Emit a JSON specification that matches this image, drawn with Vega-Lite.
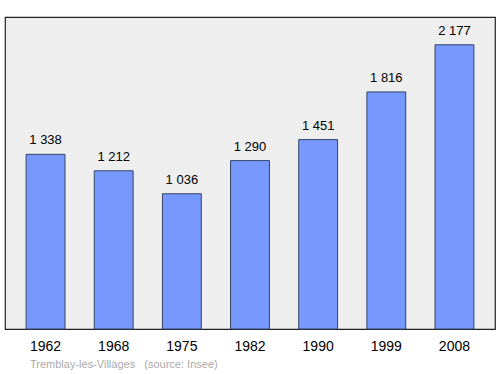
{
  "$schema": "https://vega.github.io/schema/vega-lite/v6.json",
  "width": 490,
  "height": 312,
  "autosize": {"type": "none"},
  "padding": {"left": 5, "top": 17, "right": 5, "bottom": 45},
  "background": "white",
  "config": {
    "font": "Liberation Sans",
    "view": {"fill": "#eeeeee", "stroke": "#222222", "strokeWidth": 1.2}
  },
  "title": {
    "text": "Tremblay-les-Villages\u00a0\u00a0\u00a0(source: Insee)",
    "orient": "bottom",
    "anchor": "start",
    "dx": 25,
    "offset": 6,
    "fontSize": 11,
    "fontWeight": "normal",
    "color": "#aaaaaa"
  },
  "data": {
    "values": [
      {"year": "1962", "pop": 1338, "label": "1 338"},
      {"year": "1968", "pop": 1212, "label": "1 212"},
      {"year": "1975", "pop": 1036, "label": "1 036"},
      {"year": "1982", "pop": 1290, "label": "1 290"},
      {"year": "1990", "pop": 1451, "label": "1 451"},
      {"year": "1999", "pop": 1816, "label": "1 816"},
      {"year": "2008", "pop": 2177, "label": "2 177"}
    ]
  },
  "encoding": {
    "x": {
      "field": "year",
      "type": "ordinal",
      "scale": {"paddingInner": 0.43, "paddingOuter": 0.31},
      "axis": {
        "title": null,
        "ticks": false,
        "domain": false,
        "labelAngle": 0,
        "labelFontSize": 14,
        "labelColor": "#000000",
        "labelPadding": 10
      }
    },
    "y": {
      "field": "pop",
      "type": "quantitative",
      "scale": {"domain": [0, 2390], "nice": false},
      "axis": null
    }
  },
  "layer": [
    {
      "mark": {"type": "bar", "fill": "#7799ff", "stroke": "#334466", "strokeWidth": 1}
    },
    {
      "mark": {"type": "text", "baseline": "bottom", "dy": -7, "fontSize": 13, "color": "#000000"},
      "encoding": {"text": {"field": "label"}}
    }
  ]
}
